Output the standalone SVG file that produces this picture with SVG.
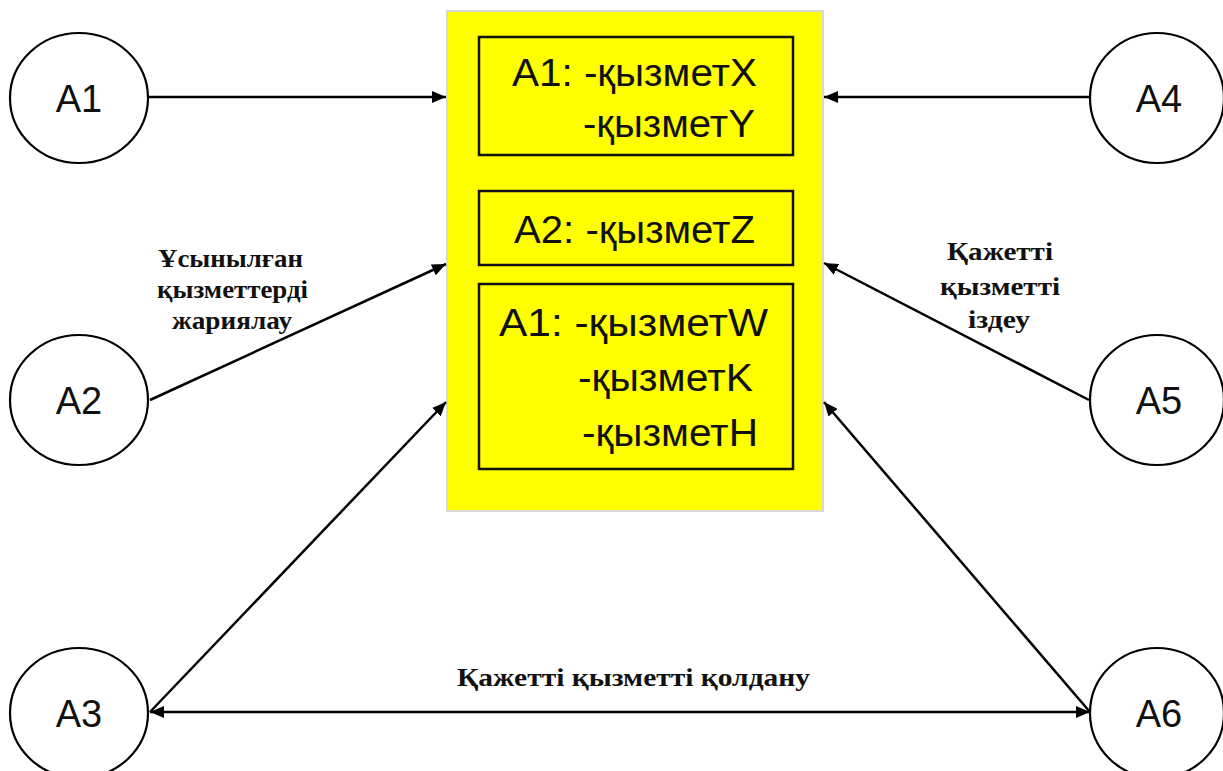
<svg xmlns="http://www.w3.org/2000/svg" width="1223" height="771" viewBox="0 0 1223 771">
  <style>
    .node ellipse { fill: #ffffff; stroke: #000000; stroke-width: 2.2; }
    .node text { font-family: "Liberation Sans", Arial, sans-serif; font-size: 38px; fill: #111111; text-anchor: middle; }
    .panel { fill: #ffff00; stroke: #d8d8d8; stroke-width: 2; }
    .entry rect { fill: none; stroke: #111111; stroke-width: 2.5; }
    .entry text { font-family: "Liberation Sans", Arial, sans-serif; font-size: 38px; fill: #111111; }
    .edge { stroke: #000000; stroke-width: 2.5; fill: none; }
    .label { font-family: "Liberation Serif", "Times New Roman", serif; font-weight: bold; font-size: 26px; fill: #111111; }
  </style>
  <defs>
    <marker id="arrow" viewBox="0 0 14 12" refX="14" refY="6" markerWidth="14" markerHeight="12" markerUnits="userSpaceOnUse" orient="auto-start-reverse">
      <path d="M0,0 L14,6 L0,12 Z" fill="#000000"/>
    </marker>
  </defs>

  <rect width="1223" height="771" fill="#ffffff"/>

  <!-- central registry -->
  <g id="registry">
    <rect class="panel" x="447" y="11" width="376" height="500"/>
    <g id="entry-a1-xy" class="entry">
      <rect x="479" y="37" width="314" height="118"/>
      <text x="512" y="86" textLength="245" lengthAdjust="spacingAndGlyphs">A1: -қызметX</text>
      <text x="583" y="137" textLength="172" lengthAdjust="spacingAndGlyphs">-қызметY</text>
    </g>
    <g id="entry-a2-z" class="entry">
      <rect x="479" y="191" width="314" height="74"/>
      <text x="514" y="243" textLength="241" lengthAdjust="spacingAndGlyphs">A2: -қызметZ</text>
    </g>
    <g id="entry-a1-wkh" class="entry">
      <rect x="479" y="284" width="314" height="185"/>
      <text x="499" y="336" textLength="269" lengthAdjust="spacingAndGlyphs">A1:  -қызметW</text>
      <text x="578" y="391" textLength="175" lengthAdjust="spacingAndGlyphs">-қызметK</text>
      <text x="582" y="446" textLength="176" lengthAdjust="spacingAndGlyphs">-қызметH</text>
    </g>
  </g>

  <!-- agents -->
  <g id="A1" class="node">
    <ellipse cx="79" cy="98" rx="69" ry="65"/>
    <text x="79" y="112">A1</text>
  </g>
  <g id="A2" class="node">
    <ellipse cx="79" cy="400" rx="69" ry="65"/>
    <text x="79" y="414">A2</text>
  </g>
  <g id="A3" class="node">
    <ellipse cx="79" cy="713" rx="69" ry="65"/>
    <text x="79" y="727">A3</text>
  </g>
  <g id="A4" class="node">
    <ellipse cx="1157" cy="98" rx="67" ry="65"/>
    <text x="1159" y="112">A4</text>
  </g>
  <g id="A5" class="node">
    <ellipse cx="1157" cy="400" rx="67" ry="65"/>
    <text x="1159" y="414">A5</text>
  </g>
  <g id="A6" class="node">
    <ellipse cx="1157" cy="713" rx="67" ry="65"/>
    <text x="1159" y="727">A6</text>
  </g>

  <!-- connectors -->
  <g id="connectors">
    <line class="edge" x1="148" y1="97" x2="446" y2="97" marker-end="url(#arrow)"/>
    <line class="edge" x1="1090" y1="97" x2="824" y2="97" marker-end="url(#arrow)"/>
    <line class="edge" x1="150" y1="400" x2="446" y2="264" marker-end="url(#arrow)"/>
    <line class="edge" x1="1089" y1="400" x2="824" y2="263" marker-end="url(#arrow)"/>
    <line class="edge" x1="150" y1="712" x2="446" y2="402" marker-end="url(#arrow)"/>
    <line class="edge" x1="1090" y1="712" x2="824" y2="402" marker-end="url(#arrow)"/>
    <line class="edge" x1="150" y1="712" x2="1090" y2="712" marker-start="url(#arrow)" marker-end="url(#arrow)"/>
  </g>

  <!-- connector labels -->
  <g id="labels">
    <text class="label" x="158" y="267" textLength="145" lengthAdjust="spacingAndGlyphs">Ұсынылған</text>
    <text class="label" x="157" y="298" textLength="151" lengthAdjust="spacingAndGlyphs">қызметтерді</text>
    <text class="label" x="172" y="329" textLength="120" lengthAdjust="spacingAndGlyphs">жариялау</text>
    <text class="label" x="947" y="260" textLength="106" lengthAdjust="spacingAndGlyphs">Қажетті</text>
    <text class="label" x="940" y="295" textLength="120" lengthAdjust="spacingAndGlyphs">қызметті</text>
    <text class="label" x="968" y="328" textLength="62" lengthAdjust="spacingAndGlyphs">іздеу</text>
    <text class="label" x="457" y="686" textLength="353" lengthAdjust="spacingAndGlyphs">Қажетті қызметті қолдану</text>
  </g>
</svg>
